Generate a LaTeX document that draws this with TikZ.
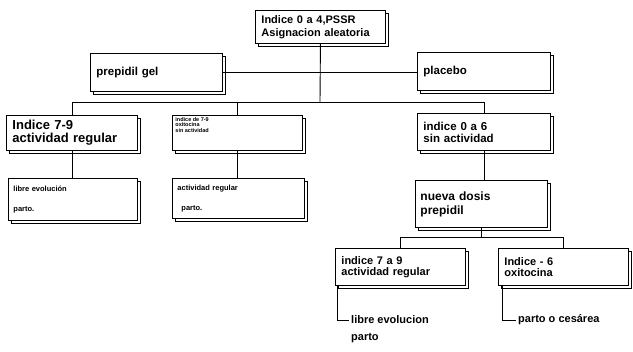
\documentclass[tikz,border=0pt]{standalone}
\usepackage{fontspec}
\setmainfont{Liberation Sans}
\usepackage{tikz}
\usetikzlibrary{calc,positioning,shadows}

\tikzset{
  caja/.style={draw, fill=white, line width=0.9pt, anchor=north west, align=left,
    inner xsep=6pt, inner ysep=2pt,
    general shadow={shadow xshift=3pt, shadow yshift=-3pt, draw, fill=white, line width=0.9pt}},
  linea/.style={line width=0.9pt},
  nota/.style={anchor=west, inner xsep=2pt, inner ysep=1pt, font=\fontsize{11}{13}\selectfont\bfseries}
}

\begin{document}
\begin{tikzpicture}[x=1pt, y=-1pt]
  \useasboundingbox (0,0) rectangle (633,352);

  % asignacion
  \node[caja, text width=118pt, minimum height=33pt, font=\fontsize{11}{13}\selectfont\bfseries] (asig) at (255,10) {Indice 0 a 4,PSSR\\Asignacion aleatoria};
  \node[caja, text width=120pt, minimum height=38pt, font=\fontsize{11.5}{13}\selectfont\bfseries] (gel) at (90,53) {prepidil gel};
  \node[caja, text width=121pt, minimum height=38pt, font=\fontsize{11.5}{13}\selectfont\bfseries] (placebo) at (417,52) {placebo};

  % segundo nivel
  \node[caja, text width=119pt, minimum height=35pt, font=\fontsize{13}{13}\selectfont\bfseries] (regular) at (6,115) {Indice 7-9\\actividad regular};
  \node[caja, inner xsep=3pt, font=\fontsize{5.5}{5.5}\selectfont\bfseries] (oxito) at (172,115)
    {\parbox[c][31pt][t]{124pt}{\raggedright indice de 7-9\\oxitocina\\sin actividad}};
  \node[caja, text width=121pt, minimum height=37pt, font=\fontsize{11.5}{12}\selectfont\bfseries] (sinact) at (417,113) {indice 0 a 6\\sin actividad};

  % tercer nivel
  \node[caja, inner xsep=5pt, text width=119pt, minimum height=42pt, font=\fontsize{7.5}{9}\selectfont\bfseries] (evol) at (8,178) {libre evolución\\[11pt]parto.};
  \node[caja, inner xsep=5pt, text width=122pt, minimum height=40pt, font=\fontsize{7.5}{9}\selectfont\bfseries] (partoE) at (172,178) {actividad regular\\[11pt]\hspace*{4pt}parto.};
  \node[caja, inner xsep=5pt, text width=122pt, minimum height=47pt, font=\fontsize{12}{14}\selectfont\bfseries] (dosis) at (415,180) {nueva dosis\\prepidil};

  % cuarto nivel
  \node[caja, text width=118pt, minimum height=37pt, font=\fontsize{11}{11.5}\selectfont\bfseries] (reg79) at (335,248) {indice 7 a 9\\actividad regular};
  \node[caja, text width=118pt, minimum height=37pt, font=\fontsize{11}{11.5}\selectfont\bfseries] (oxi6) at (498,248) {Indice - 6\\oxitocina};

  \node[nota] (libre) at (349,320) {libre evolucion};
  \node[nota] (partoL) at ($(libre.west)+(0,18)$) {parto};
  \node[nota] (cesarea) at (516,320) {parto o cesárea};

  % conectores
  \coordinate (bifur) at (320,102);
  \coordinate (bifur2) at (483,237);
  \draw[linea] (asig.south) -- (bifur);
  \draw[linea] (gel.east) -- (gel.east -| placebo.west);
  \draw[linea] (regular.north) -- (regular.north |- bifur) -- (sinact.north |- bifur) -- (sinact.north);
  \draw[linea] (oxito.north) -- (oxito.north |- bifur);
  \draw[linea] (regular.south) -- (regular.south |- evol.north);
  \draw[linea] (oxito.south) -- (oxito.south |- partoE.north);
  \draw[linea] (sinact.south) -- (sinact.south |- dosis.north);
  \draw[linea] (dosis.south) -- (dosis.south |- bifur2);
  \draw[linea] (reg79.north) -- (reg79.north |- bifur2) -- (oxi6.north |- bifur2) -- (oxi6.north);
  \draw[linea] ([xshift=2pt]reg79.south west) |- (libre.west);
  \draw[linea] ([xshift=4pt]oxi6.south west) |- (cesarea.west);
\end{tikzpicture}
\end{document}
